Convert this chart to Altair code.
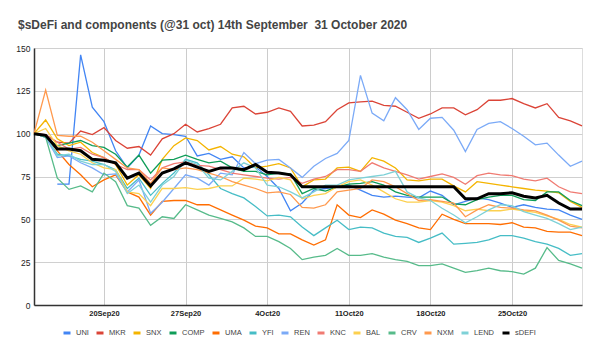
import altair as alt
import pandas as pd

start_date = "2020-09-14"
end_date = "2020-10-31"
series_names = ["UNI", "MKR", "SNX", "COMP", "UMA", "YFI", "REN", "KNC", "BAL", "CRV", "NXM", "LEND", "sDEFI"]
series_colors = ["#4285F4", "#DB4437", "#F4B400", "#0F9D58", "#FF6D01", "#46BDC6", "#7BAAF7",
                 "#F07B72", "#FCD04F", "#57BB8A", "#FF994D", "#7ED1D7", "#000000"]

UNI = [None, None, 70.5, 70.5, 146, 115.5, 107, 90, 80, 87.5, 104.5, 100, 99.5, 98.5, 87, 88.5, 85, 86.5, 80, 80.5,
       75, 68, 55, 59.5, 67, 68, 69, 70, 67, 64, 63, 63.5, 63, 62.5, 66.5, 64, 58.5, 60.5, 62.5, 61.5,
       59.5, 57, 58.5, 57, 56, 55.5, 52.5, 50]
MKR = [100, 99.5, 95, 94.5, 101.5, 99.5, 103.5, 96, 91.5, 92.5, 87.5, 97, 100, 105.5, 101, 103, 105.5, 115, 116, 111.5,
       112.5, 115, 113, 104.5, 105, 107, 114, 118, 118.5, 119, 116.5, 116, 112.5, 109, 111.5, 115, 115, 111, 114, 119.5,
       119.5, 120.5, 117.5, 115, 117.5, 109.5, 107.5, 104.5]
SNX = [100, 108, 97, 93, 95, 89, 86, 82, 70, 76, 68, 85, 93, 97.5, 96, 90.5, 92.5, 88, 86.5, 80,
       81, 82.5, 80, 69, 73, 73.5, 80, 80.5, 78, 86, 84, 80, 73, 72.5, 73.5, 73.5, 69.5, 66, 72, 71,
       70, 69, 68, 67, 66.5, 65.5, 60.5, 57]
COMP = [100, 98, 93, 94.5, 96, 93, 92, 88, 80.5, 87.5, 77, 84.5, 85, 87.5, 85, 83, 84, 80, 78, 78,
        76, 77, 76.5, 65, 68, 66.5, 69, 70.5, 71, 72, 70, 66, 64, 63, 63, 63, 59, 58.5, 61.5, 63,
        64, 64, 61.5, 61, 66, 66, 61, 58]
UMA = [100, 99, 90, 82, 76, 69, 73, 76, 66, 63, 52.5, 60.5, 61, 61, 58.5, 58.5, 55.5, 52.5, 49.5, 46,
       45, 41.5, 41.5, 38, 35, 38, 58.5, 52.5, 51, 55.5, 53, 49.5, 47.5, 45, 44, 53, 50, 47.5, 47.5, 47.5,
       47, 48, 45.5, 45, 43, 42.5, 42.5, 40.5]
YFI = [100, 98, 88, 87, 85, 84, 82, 79, 68, 74, 64, 71, 77, 85, 83, 76, 68, 65, 62.5, 57.5,
       52, 52.5, 51.5, 45.5, 40.5, 45, 49.5, 44, 45.5, 45, 42, 40, 39.5, 36.5, 39, 42, 35.5, 36, 36.5, 38,
       40.5, 40.5, 39, 37, 35.5, 33, 29, 30]
REN = [100, 98, 86, 87, 83, 80, 76, 76.5, 66, 73, 53.5, 60, 68, 76, 74, 70, 77, 76, 89, 82.5,
       84.5, 85, 80, 74.5, 81, 85.5, 88.5, 96, 134, 112, 107.5, 121, 114, 102.5, 109, 109.5, 102, 89.5, 102.5, 106,
       107, 103, 98.5, 93.5, 94.5, 87.5, 81, 84]
KNC = [100, 99, 95, 91, 92, 88, 86, 82, 79, 79, 73, 80, 82.5, 83.5, 81.5, 81, 79, 77, 76, 75,
       74, 73.5, 74.5, 71, 73.5, 75, 79, 79, 78, 83, 80, 78, 76, 73.5, 75, 76.5, 74.5, 70.5, 75.5, 77,
       76, 75.5, 73.5, 72.5, 74, 69, 66, 65]
BAL = [100, 103, 93, 90, 88, 83, 80, 79, 66, 65, 58, 68, 68, 68.5, 67.5, 68, 69.5, 69.5, 74, 73.5,
       72.5, 74.5, 73, 62, 64, 65, 69, 72, 73, 70, 66, 62, 60, 60, 61, 60, 58, 55, 56, 55,
       55, 56, 55, 54, 52, 50, 47, 45.5]
CRV = [100, 98, 74, 67.5, 69.5, 66, 77, 72, 58, 56.5, 46.5, 51.5, 50.5, 58.5, 55.5, 52.5, 50.5, 48.5, 45, 40,
       40, 37, 33, 26.5, 28, 29, 33, 29, 29, 30, 28, 26.5, 25.5, 23, 23, 24, 21.5, 19, 20, 21.5,
       20, 19.5, 18, 21.5, 33.5, 26, 24, 21.5]
NXM = [100, 125.5, 99, 98.5, 98.5, 95, 90, 85, 80, 79, 71, 80, 79, 80, 79, 77, 75, 72, 70, 68,
       65.5, 66, 64.5, 57, 56.5, 58.5, 66, 67, 68, 73, 72, 69, 65, 61, 61.5, 60.5, 59.5, 51.5, 55.5, 58.5,
       57, 56.5, 55.5, 55, 52.5, 49.5, 46, 45]
LEND = [100, 99, 87, 88, 84, 82, 82, 78, 65, 70, 60, 70, 75, 84.5, 82, 74, 73, 78, 83, 80,
        70, 69, 66, 62.5, 66, 70, 70, 73, 74, 75, 76, 78, 66, 62.5, 61, 56.5, 52.5, 48, 51.5, 55.5,
        58.5, 58, 54.5, 52.5, 50.5, 47.5, 44, 45.5]
sDEFI = [100, 99, 91, 91, 90, 85, 84.5, 83, 74, 77, 69.5, 77, 79.5, 83, 80.5, 78, 80, 80, 79, 82,
         77.5, 77, 76, 69, 69, 69, 69, 69, 69, 69, 69, 69, 69, 69, 69, 69, 69, 62, 62, 65,
         65, 65.5, 63.5, 62.5, 64, 59.5, 56, 56]

y_ticks = [0, 25, 50, 75, 100, 125, 150]
x_tick_dates = ["2020-09-20", "2020-09-27", "2020-10-04", "2020-10-11", "2020-10-18", "2020-10-25"]
title_text = "$sDeFi and components (@31 oct) 14th September\u00a0 31 October 2020"

all_series = [UNI, MKR, SNX, COMP, UMA, YFI, REN, KNC, BAL, CRV, NXM, LEND, sDEFI]
dates = pd.date_range(start_date, end_date, freq="D")
rows = []
for name, vals in zip(series_names, all_series):
    for d, v in zip(dates, vals):
        if v is not None:
            rows.append({"date": d.strftime("%Y-%m-%dT00:00:00"), "series": name, "value": v})
df = pd.DataFrame(rows)


def dt(s):
    y, m, d = [int(p) for p in s.split("-")]
    return alt.DateTime(year=y, month=m, date=d)


color_scale = alt.Scale(domain=series_names, range=series_colors)
x_enc = alt.X("date:T",
              scale=alt.Scale(domain=[dt(start_date), dt(end_date)]),
              axis=alt.Axis(values=[dt(s) for s in x_tick_dates], format="%-d%b%y", title=None,
                            labelFont="Liberation Sans", labelFontSize=7.5, labelFontWeight="bold",
                            labelColor="#222222", domainColor="#333333", domainWidth=1.5,
                            gridColor="#cccccc", gridWidth=1, ticks=False, labelPadding=4, labelAngle=0))
y_enc = alt.Y("value:Q",
              scale=alt.Scale(domain=[0, 150], nice=False, zero=True),
              axis=alt.Axis(values=y_ticks, title=None, labelFont="Liberation Sans", labelFontSize=8.5,
                            labelColor="#222222", domainColor="#333333", domainWidth=1.5,
                            gridColor="#d0d0d0", gridWidth=1, ticks=False, labelPadding=4))
color_enc = alt.Color("series:N", scale=color_scale, sort=series_names,
                      legend=alt.Legend(title=None, orient="none", direction="horizontal",
                                        columns=13, legendX=28, legendY=280,
                                        symbolType="stroke", symbolSize=49, symbolStrokeWidth=3,
                                        labelFont="Liberation Sans", labelFontSize=7.5,
                                        labelColor="#444444", columnPadding=1, labelOffset=4))

base = alt.Chart(df)
comp_lines = base.transform_filter(alt.datum.series != "sDEFI").mark_line(strokeWidth=1.3).encode(
    x=x_enc, y=y_enc, color=color_enc, detail="series:N")
sdefi_line = base.transform_filter(alt.datum.series == "sDEFI").mark_line(strokeWidth=3).encode(
    x=x_enc, y=y_enc, color=color_enc)

chart = alt.layer(comp_lines, sdefi_line).properties(
    width=548, height=257,
    autosize=alt.AutoSizeParams(type="none"),
    padding={"left": 34, "top": 48, "right": 18, "bottom": 50},
    title=alt.TitleParams(title_text, anchor="start", frame="group", dx=-16, offset=12,
                          font="Liberation Sans", fontSize=12, fontWeight="bold", color="#444444"),
).configure_view(stroke=None).configure(background="white")

chart.save("out.html", embed_options={"renderer": "svg", "actions": False})
